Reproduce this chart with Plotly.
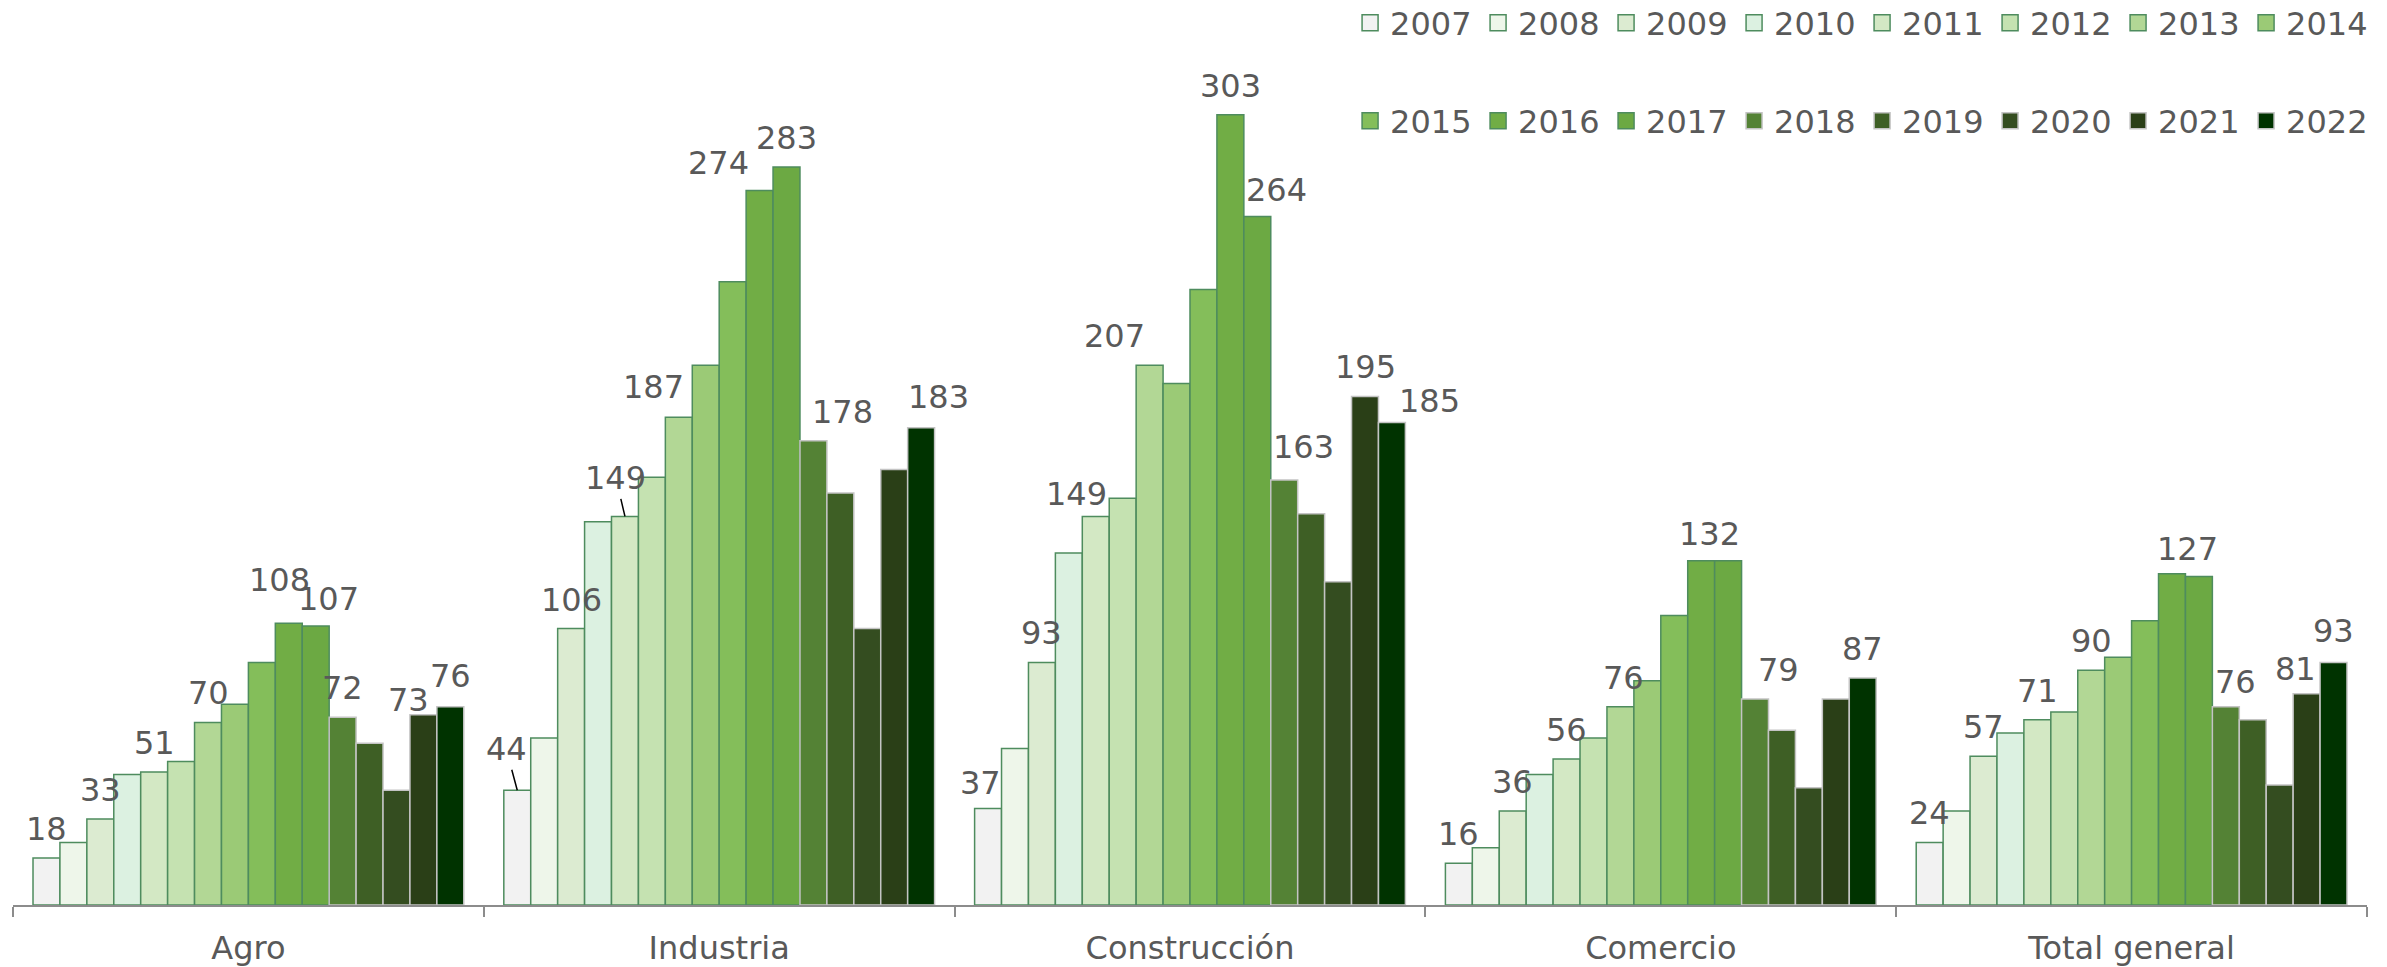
import plotly.graph_objects as go

# ---------------- data ----------------
categories = ["Agro", "Industria", "Construcción", "Comercio", "Total general"]
years = ["2007", "2008", "2009", "2010", "2011", "2012", "2013", "2014",
         "2015", "2016", "2017", "2018", "2019", "2020", "2021", "2022"]

agro = [18, 24, 33, 50, 51, 55, 70, 77, 93, 108, 107, 72, 62, 44, 73, 76]
industria = [44, 64, 106, 147, 149, 164, 187, 207, 239, 274, 283, 178, 158, 106, 167, 183]
construccion = [37, 60, 93, 135, 149, 156, 207, 200, 236, 303, 264, 163, 150, 124, 195, 185]
comercio = [16, 22, 36, 50, 56, 64, 76, 86, 111, 132, 132, 79, 67, 45, 79, 87]
total_general = [24, 36, 57, 66, 71, 74, 90, 95, 109, 127, 126, 76, 71, 46, 81, 93]

values_by_category = [agro, industria, construccion, comercio, total_general]

# years that carry a visible data label, per category
labeled_years = [
    ["2007", "2009", "2011", "2013", "2016", "2017", "2018", "2021", "2022"],
    ["2007", "2009", "2011", "2013", "2016", "2017", "2018", "2022"],
    ["2007", "2009", "2011", "2013", "2016", "2017", "2018", "2021", "2022"],
    ["2007", "2009", "2011", "2013", "2016", "2018", "2022"],
    ["2007", "2009", "2011", "2013", "2016", "2018", "2021", "2022"],
]

# ---------------- styles ----------------
fill_colors = ["#F2F2F2", "#EEF6EA", "#DCEBD1", "#DCF1E1", "#D3E8C4", "#C5E2B1",
               "#B2D795", "#9BCA76", "#84BE5A", "#71AD45", "#6CA943", "#548235",
               "#3E5F25", "#344D20", "#2A3F17", "#003300"]
line_colors = ["#4E8C5E"] * 11 + ["#C4C4C4"] * 5

# label nudges in pixels (dx, dy) for hand-moved labels; leader = Excel leader line
label_nudges = {
    (0, "2016"): (-9, 14), (0, "2017"): (13, -2), (0, "2021"): (-15, -14), (0, "2022"): (0, 2),
    (1, "2013"): (-25, 1), (1, "2016"): (-41, -2), (1, "2018"): (29, 0), (1, "2022"): (17, 2),
    (2, "2007"): (-8, -3), (2, "2011"): (-19, -7), (2, "2013"): (-35, 0), (2, "2017"): (19, -2),
    (2, "2018"): (19, 4), (2, "2022"): (38, -7),
    (3, "2013"): (3, 0), (3, "2016"): (8, -2), (3, "2018"): (23, 0),
    (4, "2016"): (16, -4), (4, "2018"): (10, -4), (4, "2021"): (-11, -4), (4, "2022"): (0, 2),
}
leader_offsets = {(1, "2007"): (-11, -41), (1, "2011"): (-9, -38)}

TEXT = "#595959"
FONT = "DejaVu Sans"
FS = 32
BARGAP = 0.085

fig = go.Figure()
for j, yr in enumerate(years):
    leg = "legend" if j < 8 else "legend2"
    fig.add_trace(go.Bar(
        name=yr,
        x=categories,
        y=[vals[j] for vals in values_by_category],
        marker=dict(color=fill_colors[j], line=dict(color=line_colors[j], width=1.5)),
        legendgroup=yr, showlegend=False, legend=leg,
        hoverinfo="x+y+name",
    ))
    # legend key (larger square swatch, same colours)
    fig.add_trace(go.Scatter(
        name=yr, x=[None], y=[None], mode="markers",
        marker=dict(symbol="square", size=17, color=fill_colors[j],
                    line=dict(color=line_colors[j], width=1.5)),
        legendgroup=yr, showlegend=True, legend=leg, hoverinfo="skip",
    ))

# data labels
n = len(years)
w = (1 - BARGAP) / n
annotations = []
for i, vals in enumerate(values_by_category):
    for yr in labeled_years[i]:
        j = years.index(yr)
        xpos = i + (j - (n - 1) / 2) * w
        v = vals[j]
        if (i, yr) in leader_offsets:
            ax, ay = leader_offsets[(i, yr)]
            annotations.append(dict(
                x=xpos, y=v, xref="x", yref="y", text=str(v),
                showarrow=True, arrowhead=0, arrowwidth=1.5, arrowcolor="#000000",
                ax=ax, ay=ay, standoff=0,
                font=dict(family=FONT, size=FS, color=TEXT)))
        else:
            dx, dy = label_nudges.get((i, yr), (0, 0))
            annotations.append(dict(
                x=xpos, y=v, xref="x", yref="y", text=str(v),
                showarrow=False, xanchor="center", yanchor="middle",
                xshift=dx, yshift=29 + dy,
                font=dict(family=FONT, size=FS, color=TEXT)))

legend_common = dict(
    orientation="h", xanchor="left", yanchor="middle",
    font=dict(family=FONT, size=FS, color=TEXT),
    entrywidth=83, entrywidthmode="pixels",
    bgcolor="rgba(0,0,0,0)", traceorder="normal",
)

fig.update_layout(
    width=2387, height=967,
    margin=dict(l=13, r=20, t=40, b=62, autoexpand=False),
    paper_bgcolor="white", plot_bgcolor="white",
    barmode="group", bargap=BARGAP, bargroupgap=0,
    font=dict(family=FONT, size=FS, color=TEXT),
    legend=dict(x=0.568, y=1.0197, **legend_common),
    legend2=dict(x=0.568, y=0.9064, **legend_common),
    annotations=annotations,
    xaxis=dict(
        type="category", categoryorder="array", categoryarray=categories,
        tickson="boundaries", ticks="outside", ticklen=10,
        tickwidth=2, tickcolor="#8C8C8C", showline=True, linecolor="#8C8C8C",
        linewidth=2, showgrid=False, tickfont=dict(family=FONT, size=FS, color=TEXT),
        ticklabelstandoff=14, fixedrange=True,
    ),
    yaxis=dict(visible=False, range=[0, 331.7], fixedrange=True),
    showlegend=True,
)

fig.write_html("out.html", config={"displayModeBar": False},
               post_script="document.body.style.margin='0';")
